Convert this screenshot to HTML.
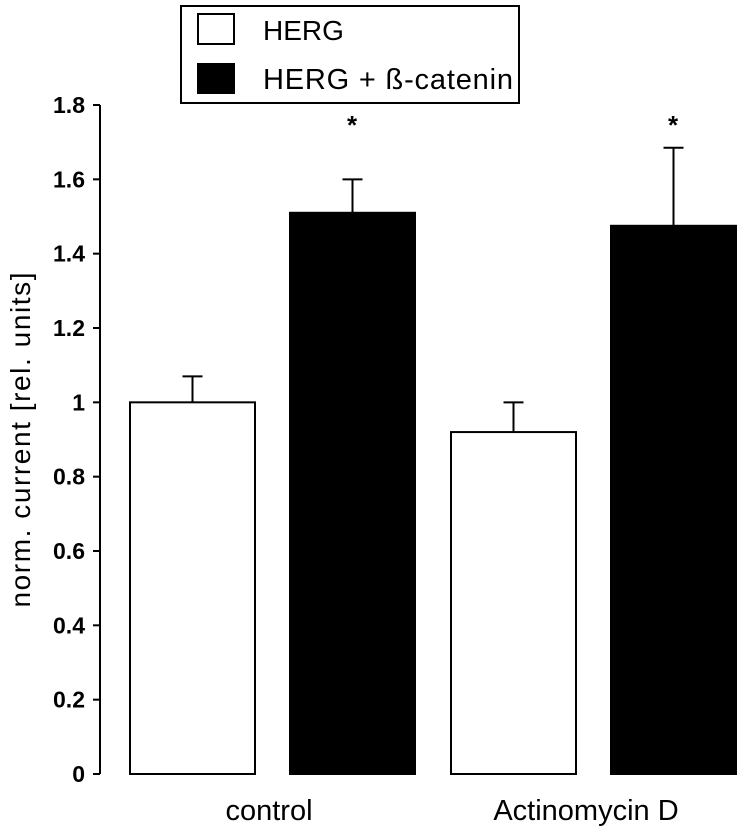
<!DOCTYPE html>
<html><head><meta charset="utf-8"><style>
body{margin:0;background:#fff}
svg text{font-family:"Liberation Sans",Arial,sans-serif}
</style></head><body>
<svg id="chart" width="741" height="834" viewBox="0 0 741 834" xmlns="http://www.w3.org/2000/svg">
<g>
<rect x="181" y="6" width="338" height="97" fill="#fff" stroke="#000" stroke-width="2"/>
<rect x="198" y="14" width="36" height="30" fill="#fff" stroke="#000" stroke-width="2"/>
<text x="263" y="40" font-size="28">HERG</text>
<rect x="197" y="63" width="38" height="31" fill="#000"/>
<text x="263" y="89" font-size="29" textLength="250">HERG + ß-catenin</text>
</g>
<text transform="translate(30,440) rotate(-90)" text-anchor="middle" font-size="28" textLength="335">norm. current [rel. units]</text>
<g id="plot"></g>
</svg>
<script>
const categories=["control","Actinomycin D"];
const hergValues=[1.0,0.92];
const hergErrors=[0.07,0.08];
const cateninValues=[1.51,1.475];
const cateninErrors=[0.09,0.21];
const yTicks=[0,0.2,0.4,0.6,0.8,1,1.2,1.4,1.6,1.8];
const tickLabels=["0","0.2","0.4","0.6","0.8","1","1.2","1.4","1.6","1.8"];
const NS="http://www.w3.org/2000/svg";
const g=document.getElementById('plot');
const y0=774,yTop=105,ymax=1.8;
function y(v){return y0-(v/ymax)*(y0-yTop);}
const groupStart=[130,451];
const labelCenter=[269,586];
function mk(t,a){const e=document.createElementNS(NS,t);for(const k in a)e.setAttribute(k,a[k]);g.appendChild(e);return e;}
let ax=mk('line',{x1:100,y1:y(0),x2:100,y2:y(1.8),stroke:'#000','stroke-width':2});


yTicks.forEach((t,i)=>{
 const l=mk('line',{x1:93,x2:100,y1:y(t),y2:y(t),stroke:'#000','stroke-width':2});
 
 
 const tx=mk('text',{x:85,y:y(t)+8,'text-anchor':'end','font-size':23,'font-weight':'bold'});
 tx.textContent=tickLabels[i];
 
 
});
function bar(x,w,v,err,fill){
 const top=y(v);
 const eb=mk('line',{x1:x+w/2,x2:x+w/2,y1:top,y2:y(v+err),stroke:'#000','stroke-width':2});
 
 
 const cap=mk('line',{x1:x+w/2-10,x2:x+w/2+10,y1:y(v+err),y2:y(v+err),stroke:'#000','stroke-width':2});
 
 
 const r=mk('rect',{x:x,y:top,width:w,height:y0-top,fill:fill,stroke:'#000','stroke-width':2});
 
 
 return r;
}
categories.forEach((c,i)=>{
 const gx=groupStart[i];
 bar(gx,125,hergValues[i],hergErrors[i],'#fff');
 bar(gx+160,125,cateninValues[i],cateninErrors[i],'#000');
 const st=mk('text',{x:gx+160+62,y:134,'text-anchor':'middle','font-size':26,'font-weight':'bold'});
 st.textContent='*';
 
 
 const lb=mk('text',{x:labelCenter[i],y:820,'text-anchor':'middle','font-size':29});
 lb.textContent=c;
 
 
});
</script>
</body></html>
